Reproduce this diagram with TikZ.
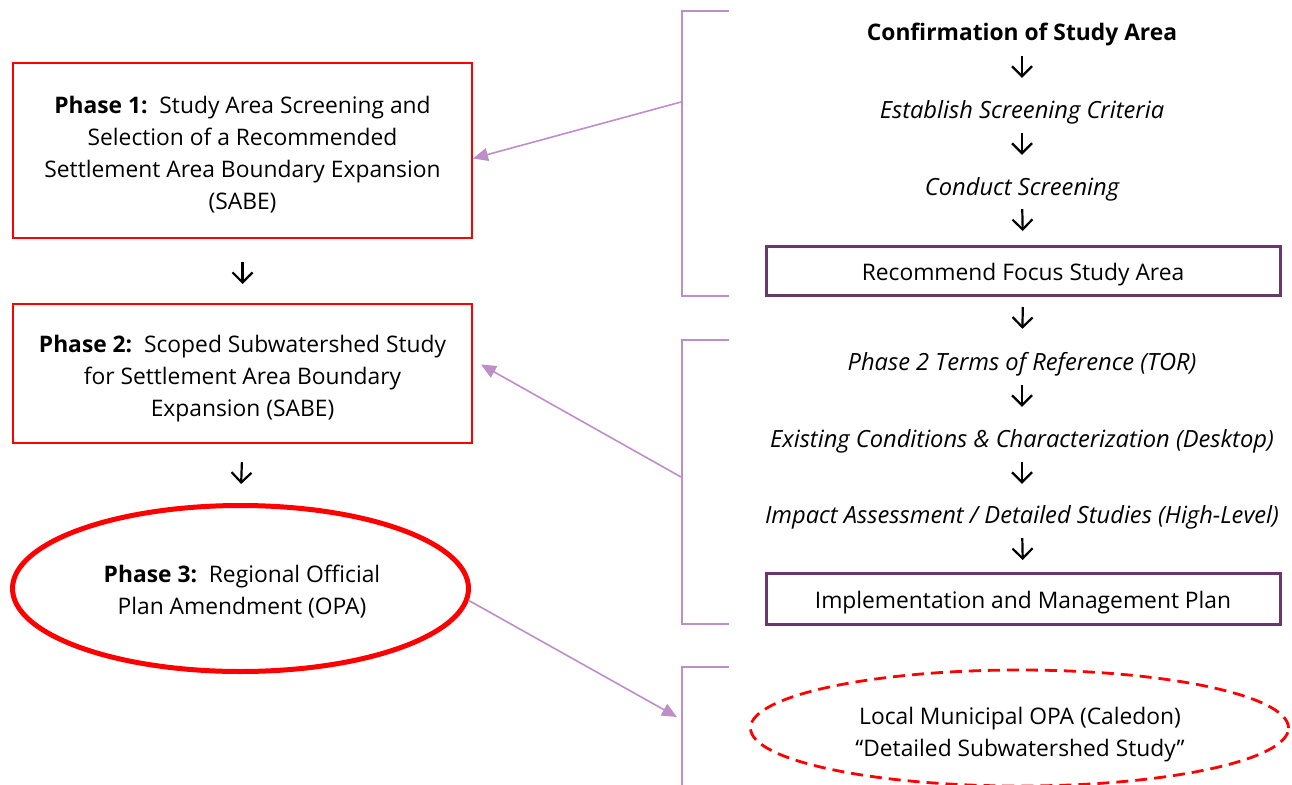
\documentclass[tikz,border=0pt]{standalone}
\usepackage{fontspec}
\setmainfont{Open Sans}
\usetikzlibrary{arrows.meta,shapes.geometric,calc}
\definecolor{boxred}{RGB}{255,0,0}
\definecolor{darkpurple}{RGB}{104,56,108}
\definecolor{lightpurple}{RGB}{190,142,200}
\newcommand{\regfont}{\fontsize{22.8}{32}\selectfont}
\newcommand{\itfont}{\fontsize{23.7}{32}\selectfont\itshape}
\begin{document}
\begin{tikzpicture}[x=1pt,y=-1pt,
  txt/.style={inner sep=0pt, text height=20pt, text depth=2pt, font=\regfont},
  ittxt/.style={txt, font=\itfont},
  boxtxt/.style={inner sep=0pt, align=center, font=\regfont},
  redbox/.style={draw=boxred, line width=2pt, inner sep=0pt},
  purplebox/.style={draw=darkpurple, line width=3pt, inner sep=0pt, minimum width=514pt, text height=20pt, text depth=2pt, font=\regfont},
  dn/.style={draw=black, line width=2.2pt, -{Straight Barb[length=10pt,width=20pt,line width=2.2pt]}},
  brk/.style={draw=lightpurple, line width=1.6pt},
  conn/.style={draw=lightpurple, line width=1.6pt, -{Triangle[length=15pt,width=13pt]}}
]
\useasboundingbox (0,0) rectangle (1292,784);
\fill[white] (0,0) rectangle (1292,784);

% left column
\node[redbox, minimum width=459pt, minimum height=175pt] (p1) at (242.5,150.5) {};
\node[boxtxt] (p1t) at (242.5,154.5)
  {\textbf{Phase 1:}\ \ Study Area Screening and\\Selection of a Recommended\\Settlement Area Boundary Expansion\\(SABE)};
\node[redbox, minimum width=459pt, minimum height=139pt] (p2) at (242.5,373.5) {};
\node[boxtxt] (p2t) at (242.5,378.5)
  {\textbf{Phase 2:}\ \ Scoped Subwatershed Study\\for Settlement Area Boundary\\Expansion (SABE)};
\node[ellipse, draw=boxred, line width=5pt, minimum width=456pt, minimum height=166pt, inner sep=0pt] (p3) at (240.5,588.5) {};
\node[boxtxt] (p3t) at (242,592)
  {\textbf{Phase 3:}\ \ Regional Official\\Plan Amendment (OPA)};

\draw[dn, shorten <=23pt, shorten >=19pt] (p1.south) -- (p2.north);
\draw[dn, shorten <=18pt, shorten >=19pt] (p2.south) -- (p3.north);

% right column
\node[txt] (conf) at (1022,32) {\textbf{Confirmation of Study Area}};
\node[ittxt] (est) at (1022,109) {Establish Screening Criteria};
\node[ittxt] (cond) at (1022,186) {Conduct Screening};
\node[purplebox, minimum height=49pt] (rec) at (1023,271) {Recommend Focus Study Area};
\node[ittxt] (tor) at (1022,361) {Phase 2 Terms of Reference (TOR)};
\node[ittxt] (exist) at (1022,438) {Existing Conditions \& Characterization (Desktop)};
\node[ittxt] (imp) at (1022,514) {Impact Assessment / Detailed Studies (High-Level)};
\node[purplebox, minimum height=51pt] (impl) at (1023,599) {Implementation and Management Plan};
\node[ellipse, draw=boxred, line width=2.8pt, dash pattern=on 12pt off 7pt, minimum width=538pt, minimum height=116pt, inner sep=0pt] (loc) at (1019.5,728) {};
\node[boxtxt] (loct) at (1020,734.5)
  {Local Municipal OPA (Caledon)\\“Detailed Subwatershed Study”};

\draw[dn, shorten <=13pt, shorten >=20pt] (conf.south) -- (est.north);
\draw[dn, shorten <=13pt, shorten >=20pt] (est.south) -- (cond.north);
\draw[dn, shorten <=12pt, shorten >=14pt] (cond.south) -- (rec.north);
\draw[dn, shorten <=10pt, shorten >=21pt] (rec.south) -- (tor.north);
\draw[dn, shorten <=13pt, shorten >=20pt] (tor.south) -- (exist.north);
\draw[dn, shorten <=13pt, shorten >=19pt] (exist.south) -- (imp.north);
\draw[dn, shorten <=13pt, shorten >=12pt] (imp.south) -- (impl.north);

% brackets
\draw[brk] (729,11) -- (682,11) -- (682,296) -- (729,296);
\draw[brk] (729,340) -- (682,340) -- (682,624) -- (729,624);
\draw[brk] (729,667) -- (682,667) -- (682,790);
\coordinate (b1) at (681,102);
\coordinate (b2) at (681,477);
\coordinate (b3) at (681,717);

\draw[conn] (b1) -- ([yshift=-8pt]p1.east);
\draw[conn] (b2) -- ([xshift=8pt,yshift=9pt]p2.east);
\draw[conn] (p3.-3) -- ([xshift=-4pt]b3);
\end{tikzpicture}
\end{document}
